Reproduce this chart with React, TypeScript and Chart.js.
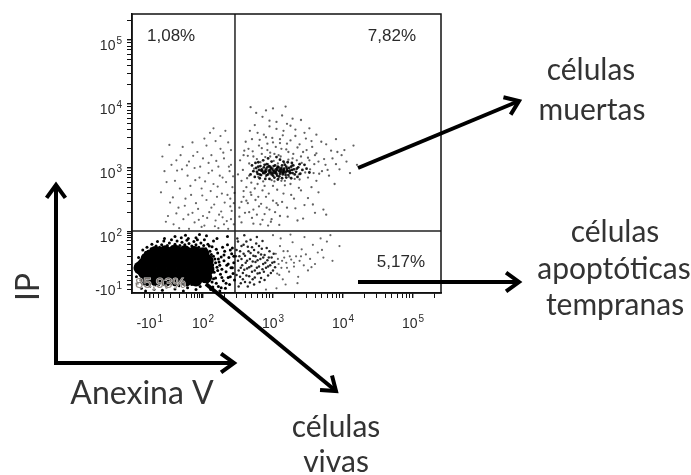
import React, { useEffect, useRef } from "react";
import { Chart, registerables } from "chart.js";

Chart.register(...registerables);

// Axis range in display (decade) units of the biexponential scale
const X_MIN = 0.986;
const X_MAX = 5.4;
const Y_MIN = 1.047;
const Y_MAX = 5.406;

// Tick labels: [base, exponent]
const xMajorTicks = [1.24, 2, 3, 4, 5];
const xTickLabels: [string, string][] = [["-10", "1"], ["10", "2"], ["10", "3"], ["10", "4"], ["10", "5"]];
const yMajorTicks = [1.17, 2, 3, 4, 5];
const yTickLabels: [string, string][] = [["-10", "1"], ["10", "2"], ["10", "3"], ["10", "4"], ["10", "5"]];
const xLowMinor = [1.16, 1.3, 1.37, 1.44, 1.53, 1.66, 1.76, 1.83, 1.88, 1.92, 1.95, 1.98];
const yLowMinor = [1.1, 1.25, 1.32, 1.4, 1.5, 1.62, 1.72, 1.8, 1.86, 1.91, 1.95, 1.98];

// Quadrant gates and percentages
const gateX = 2.457;
const gateY = 2.016;
const pctUpperLeft = "1,08%";
const pctUpperRight = "7,82%";
const pctLowerLeft = "85,93%";
const pctLowerRight = "5,17%";

// Live cells: solid core of the population
const liveCore: [number, number][] = [
  [1.243, 1.625], [1.386, 1.625], [1.529, 1.625], [1.671, 1.625], [1.814, 1.625], [1.957, 1.625],
  [1.157, 1.5], [1.271, 1.5], [1.414, 1.5], [1.557, 1.5], [1.7, 1.5], [1.843, 1.5], [1.986, 1.5],
  [1.157, 1.375], [1.271, 1.375], [1.414, 1.375], [1.557, 1.375], [1.7, 1.375], [1.843, 1.375], [1.957, 1.375],
  [1.186, 1.25], [1.329, 1.25], [1.471, 1.25], [1.614, 1.25], [1.757, 1.25], [1.9, 1.25],
  [2.06, 1.55], [2.07, 1.42], [2.04, 1.3], [1.32, 1.68], [1.6, 1.7], [1.88, 1.68],
  [1.46, 1.69], [1.74, 1.69], [2.0, 1.66], [1.2, 1.58], [1.1, 1.44],
];

// Live cells: halo around the core
const liveHalo: [number, number][] = [
  [1.12, 1.55], [1.15, 1.62], [1.18, 1.68], [1.22, 1.7], [1.26, 1.74], [1.3, 1.72], [1.33, 1.78], [1.38, 1.76],
  [1.41, 1.8], [1.45, 1.74], [1.49, 1.79], [1.52, 1.83], [1.56, 1.77], [1.6, 1.81], [1.63, 1.86], [1.67, 1.79],
  [1.7, 1.84], [1.74, 1.8], [1.77, 1.87], [1.8, 1.82], [1.84, 1.78], [1.87, 1.85], [1.9, 1.8], [1.94, 1.76],
  [1.97, 1.83], [2.01, 1.79], [2.04, 1.74], [2.07, 1.81], [2.1, 1.7], [2.13, 1.77],
  [2.02, 1.62], [2.04, 1.5], [2.05, 1.38], [2.03, 1.27], [2.06, 1.18], [2.08, 1.56], [2.09, 1.44], [2.1, 1.31],
  [2.12, 1.65], [2.13, 1.22], [2.14, 1.49], [2.16, 1.37], [2.17, 1.58], [2.18, 1.28], [2.2, 1.45], [2.21, 1.67],
  [2.22, 1.15], [2.23, 1.53], [2.25, 1.34], [2.26, 1.61], [2.27, 1.42], [2.29, 1.24], [2.3, 1.55], [2.31, 1.7],
  [2.33, 1.38], [2.34, 1.48], [2.36, 1.29], [2.37, 1.6], [2.38, 1.18], [2.4, 1.44], [2.41, 1.66], [2.43, 1.35],
  [2.44, 1.52], [2.45, 1.25], [2.42, 1.75], [2.35, 1.8], [2.28, 1.76], [2.19, 1.73], [2.11, 1.1], [2.24, 1.08],
  [1.12, 1.12], [1.18, 1.08], [1.24, 1.15], [1.3, 1.1], [1.36, 1.17], [1.42, 1.09], [1.48, 1.14], [1.54, 1.19],
  [1.6, 1.11], [1.66, 1.16], [1.72, 1.08], [1.78, 1.13], [1.84, 1.18], [1.9, 1.1], [1.96, 1.15],
  [1.05, 1.3], [1.07, 1.45], [1.06, 1.2], [1.09, 1.38], [1.1, 1.52], [1.08, 1.6],
  [1.45, 1.9], [1.6, 1.93], [1.75, 1.95], [1.9, 1.91], [2.05, 1.94], [2.2, 1.9], [2.35, 1.93], [1.35, 1.85],
  [2.15, 1.86], [1.95, 1.96],
  [1.14, 1.72], [1.2, 1.76], [1.27, 1.81], [1.31, 1.66], [1.35, 1.7], [1.4, 1.69], [1.44, 1.86], [1.47, 1.7],
  [1.51, 1.74], [1.55, 1.88], [1.58, 1.71], [1.62, 1.76], [1.65, 1.69], [1.69, 1.91], [1.72, 1.74], [1.76, 1.71],
  [1.79, 1.9], [1.83, 1.72], [1.86, 1.76], [1.89, 1.7], [1.92, 1.88], [1.96, 1.72], [1.99, 1.68], [2.02, 1.88],
  [2.06, 1.68], [2.09, 1.78], [2.12, 1.57], [2.15, 1.62], [2.18, 1.52], [2.21, 1.4], [2.24, 1.48], [2.27, 1.29],
  [2.3, 1.64], [2.33, 1.2], [2.36, 1.5], [2.39, 1.72], [2.42, 1.44], [2.07, 1.23], [2.14, 1.14], [2.19, 1.2],
  [2.26, 1.13], [2.32, 1.12], [2.39, 1.3], [2.44, 1.62], [2.03, 1.43], [2.06, 1.57], [2.08, 1.34], [2.15, 1.27],
  [2.11, 1.46], [2.22, 1.58],
];

// Early apoptotic cells (lower right): dense part and sparse tail
const earlyDense: [number, number][] = [
  [2.48, 1.72], [2.5, 1.55], [2.51, 1.4], [2.52, 1.62], [2.53, 1.3], [2.55, 1.78], [2.56, 1.48], [2.57, 1.36],
  [2.58, 1.66], [2.6, 1.22], [2.61, 1.52], [2.62, 1.85], [2.63, 1.43], [2.65, 1.7], [2.66, 1.31], [2.67, 1.58],
  [2.69, 1.47], [2.7, 1.76], [2.71, 1.26], [2.72, 1.63], [2.74, 1.4], [2.75, 1.53], [2.76, 1.82], [2.78, 1.35],
  [2.79, 1.68], [2.8, 1.46], [2.82, 1.58], [2.83, 1.28], [2.84, 1.74], [2.86, 1.5], [2.87, 1.38], [2.88, 1.64],
  [2.9, 1.44], [2.92, 1.56], [2.93, 1.32], [2.95, 1.7], [2.96, 1.48], [2.98, 1.6], [3.0, 1.4], [3.02, 1.53],
  [2.49, 1.9], [2.54, 1.2], [2.59, 1.95], [2.64, 1.15], [2.68, 1.88], [2.73, 1.18], [2.77, 1.92], [2.81, 1.22],
  [2.85, 1.86],
  [2.47, 1.62], [2.48, 1.33], [2.5, 1.85], [2.51, 1.15], [2.53, 1.7], [2.54, 1.44], [2.55, 1.58], [2.57, 1.26],
  [2.58, 1.8], [2.59, 1.41], [2.6, 1.63], [2.62, 1.32], [2.63, 1.55], [2.64, 1.77], [2.66, 1.45], [2.67, 1.21],
  [2.68, 1.67], [2.7, 1.38], [2.71, 1.54], [2.73, 1.72], [2.74, 1.29], [2.75, 1.62], [2.77, 1.44], [2.78, 1.56],
  [2.8, 1.78], [2.81, 1.36], [2.83, 1.65], [2.85, 1.42], [2.86, 1.6], [2.88, 1.25], [2.89, 1.52], [2.91, 1.75],
  [2.93, 1.46], [2.94, 1.6], [2.97, 1.36], [2.99, 1.52], [3.01, 1.66], [3.03, 1.45],
];
const earlySparse: [number, number][] = [
  [3.04, 1.66], [3.06, 1.35], [3.08, 1.5], [3.1, 1.78], [3.12, 1.44], [3.14, 1.26], [3.16, 1.6], [3.19, 1.52],
  [3.21, 1.7], [3.23, 1.38], [3.26, 1.57], [3.28, 1.84], [3.3, 1.46], [3.33, 1.62], [3.36, 1.3], [3.38, 1.55],
  [3.41, 1.73], [3.44, 1.48], [3.47, 1.65], [3.5, 1.4], [3.53, 1.58], [3.57, 1.8], [3.6, 1.5], [3.64, 1.68],
  [3.68, 1.9], [3.72, 1.6], [3.77, 1.85], [3.82, 1.95], [3.05, 1.12], [3.18, 1.18], [3.35, 1.2], [2.9, 1.1],
  [3.0, 1.95], [3.25, 1.96], [3.45, 1.92], [3.11, 1.9],
  [3.07, 1.58], [3.09, 1.33], [3.13, 1.55], [3.15, 1.7], [3.2, 1.44], [3.24, 1.62], [3.3, 1.52], [3.4, 1.62],
  [3.55, 1.45], [3.7, 1.72], [3.85, 1.55], [3.95, 1.78],
];

// Dead cells (upper right): dense cluster and cloud
const deadCore: [number, number][] = [
  [2.72, 2.95], [2.76, 3.0], [2.78, 2.91], [2.8, 2.97], [2.82, 3.03], [2.83, 2.89], [2.85, 2.95], [2.87, 3.01],
  [2.88, 2.92], [2.9, 2.98], [2.91, 3.06], [2.93, 2.9], [2.94, 2.96], [2.96, 3.02], [2.97, 2.93], [2.99, 2.99],
  [3.0, 2.88], [3.02, 2.95], [3.03, 3.04], [3.05, 2.91], [3.06, 2.97], [3.08, 3.01], [3.09, 2.87], [3.11, 2.94],
  [3.12, 3.0], [3.14, 2.9], [3.15, 2.97], [3.17, 3.05], [3.18, 2.93], [3.2, 2.99], [3.22, 2.89], [3.24, 2.96],
  [3.26, 3.02], [3.28, 2.92], [3.3, 2.98], [3.33, 2.94], [3.36, 3.01], [3.39, 2.91], [3.42, 2.97], [2.75, 3.08],
  [2.86, 3.12], [2.98, 3.1], [3.1, 3.13], [3.21, 3.09], [2.81, 2.84], [2.95, 2.83], [3.07, 2.82], [3.19, 2.85],
  [2.7, 3.04], [3.45, 3.05],
  [2.77, 2.94], [2.79, 3.02], [2.81, 2.9], [2.84, 2.98], [2.86, 2.92], [2.88, 3.05], [2.89, 2.95], [2.91, 2.89],
  [2.92, 3.01], [2.95, 2.93], [2.97, 3.0], [2.98, 2.9], [3.0, 2.96], [3.01, 3.03], [3.03, 2.92], [3.04, 2.98],
  [3.06, 2.88], [3.07, 3.02], [3.09, 2.95], [3.1, 2.91], [3.12, 2.97], [3.13, 3.04], [3.15, 2.92], [3.16, 2.99],
  [3.18, 2.89], [3.19, 3.02], [3.21, 2.95], [3.23, 3.0], [3.25, 2.92], [3.27, 2.97], [3.29, 3.04], [3.31, 2.9],
  [3.34, 2.99], [2.83, 2.96], [2.94, 3.03], [3.04, 2.94], [3.14, 2.94], [3.24, 2.93], [2.9, 2.94], [3.0, 2.92],
  [3.1, 2.98], [3.2, 2.96], [2.96, 2.97], [3.06, 3.0], [3.16, 2.95],
  [2.68, 2.9], [2.74, 2.86], [2.79, 3.09], [2.93, 3.15], [3.05, 3.17], [3.15, 3.1], [3.27, 3.08], [3.38, 3.06],
  [3.48, 2.99], [3.52, 2.93], [3.35, 2.86], [3.26, 2.84], [2.89, 2.83], [3.02, 2.85], [3.13, 2.84],
];
const deadHalo: [number, number][] = [
  [2.85, 3.8], [2.95, 3.65], [3.05, 3.72], [2.78, 3.55], [3.15, 3.58], [3.25, 3.66], [2.7, 3.45], [2.9, 3.48],
  [3.0, 3.4], [3.1, 3.45], [3.2, 3.38], [3.32, 3.5], [3.45, 3.55], [3.55, 3.42], [2.65, 3.3], [2.8, 3.35],
  [2.92, 3.28], [3.02, 3.22], [3.12, 3.3], [3.22, 3.25], [3.35, 3.32], [3.48, 3.28], [3.6, 3.2], [2.58, 3.2],
  [2.72, 3.18], [2.84, 3.22], [2.96, 3.18], [3.08, 3.2], [3.28, 3.15], [3.4, 3.18], [3.52, 3.12], [3.65, 3.1],
  [3.75, 3.05], [3.85, 3.15], [3.7, 2.95], [3.58, 2.92], [3.5, 2.85], [3.62, 2.8], [3.8, 2.88], [3.95, 2.98],
  [4.05, 3.1], [3.92, 3.25], [4.15, 3.35], [3.88, 2.75], [3.0, 3.93], [3.4, 3.75],
  [2.55, 2.8], [2.62, 2.7], [2.68, 2.62], [2.58, 2.55], [2.64, 2.45], [2.52, 2.38], [2.6, 2.3], [2.7, 2.22],
  [2.55, 2.15], [2.75, 2.5], [2.8, 2.4], [2.85, 2.65], [2.9, 2.55], [2.95, 2.35], [3.0, 2.72], [3.05, 2.45],
  [3.1, 2.25], [3.15, 2.6], [3.2, 2.38], [3.25, 2.75], [3.3, 2.52], [3.35, 2.18], [3.4, 2.65], [3.45, 2.42],
  [2.82, 2.12], [2.98, 2.2], [2.72, 2.35], [2.88, 2.28], [3.12, 2.8], [3.55, 2.7], [2.66, 2.88], [2.78, 2.75],
  [3.38, 2.82], [2.93, 2.1], [3.6, 2.3], [3.07, 2.42], [3.76, 2.27],
  [2.53, 3.12], [2.57, 2.97], [2.61, 3.41], [2.63, 2.84], [2.66, 3.07], [2.67, 3.58], [2.69, 2.77], [2.71, 3.26],
  [2.73, 2.99], [2.74, 3.67], [2.77, 3.14], [2.79, 2.86], [2.81, 3.44], [2.82, 3.09], [2.84, 3.31], [2.86, 2.79],
  [2.87, 3.52], [2.89, 3.17], [2.9, 2.87], [2.92, 3.38], [2.93, 3.06], [2.95, 3.74], [2.96, 3.24], [2.98, 2.81],
  [2.99, 3.47], [3.01, 3.11], [3.02, 2.79], [3.04, 3.33], [3.05, 3.61], [3.07, 3.07], [3.08, 2.84], [3.1, 3.39],
  [3.11, 3.18], [3.13, 2.92], [3.14, 3.51], [3.16, 3.08], [3.17, 2.8], [3.19, 3.29], [3.2, 3.69], [3.22, 3.13],
  [3.23, 2.86], [3.25, 3.43], [3.27, 3.04], [3.29, 3.22], [3.31, 2.83], [3.32, 3.6], [3.34, 3.12], [3.37, 2.9],
  [3.38, 3.37], [3.41, 3.08], [3.43, 3.25], [3.46, 2.93], [3.47, 3.46], [3.5, 3.16], [3.53, 2.98], [3.56, 3.33],
  [3.59, 3.06], [3.62, 3.23], [3.66, 2.91], [3.69, 3.41], [3.73, 3.14], [3.78, 2.97], [3.83, 3.27], [3.9, 3.06],
  [3.98, 3.2], [4.1, 2.92], [4.2, 3.05], [2.58, 2.64], [2.62, 2.49], [2.66, 2.31], [2.69, 2.58], [2.72, 2.13],
  [2.74, 2.68], [2.77, 2.27], [2.79, 2.55], [2.83, 2.44], [2.85, 2.19], [2.88, 2.72], [2.91, 2.38], [2.94, 2.6],
  [2.97, 2.16], [3.0, 2.49], [3.03, 2.31], [3.06, 2.66], [3.09, 2.11], [3.13, 2.47], [3.17, 2.73], [3.21, 2.24],
  [3.26, 2.58], [3.32, 2.37], [3.37, 2.69], [3.43, 2.21], [3.5, 2.53], [3.57, 2.43], [3.65, 2.62], [3.72, 2.35],
  [2.5, 2.9], [2.52, 2.24], [2.55, 2.47], [2.59, 3.27], [2.64, 3.19], [2.76, 3.86], [2.9, 3.9], [3.13, 3.82],
  [3.28, 3.77], [3.52, 3.62], [3.62, 3.52], [3.76, 3.37], [3.9, 3.45], [4.02, 3.28], [2.68, 3.95], [3.18, 3.96],
];

// Necrotic cells (upper left)
const necrotic: [number, number][] = [
  [1.55, 3.05], [1.62, 3.12], [1.7, 2.98], [1.68, 3.2], [1.8, 3.1], [1.88, 3.0], [1.92, 3.25], [2.0, 3.15],
  [2.05, 3.35], [2.12, 3.2], [2.18, 3.42], [2.25, 3.3], [2.3, 3.15], [2.36, 3.4], [2.4, 3.05], [2.22, 3.02],
  [2.08, 2.92], [1.95, 2.85], [1.78, 2.88], [1.6, 2.8], [1.82, 2.72], [1.98, 2.68], [2.15, 2.75], [2.28, 2.85],
  [2.42, 2.7], [2.35, 2.58], [2.2, 2.55], [2.05, 2.5], [1.9, 2.45], [1.75, 2.52], [1.65, 2.38], [1.85, 2.3],
  [2.0, 2.25], [2.12, 2.38], [2.26, 2.32], [2.4, 2.2], [2.3, 2.12], [2.18, 2.18], [2.02, 2.1], [1.88, 2.15],
  [1.72, 2.2], [1.58, 2.12], [1.5, 2.25], [2.44, 2.45], [2.38, 2.95], [1.45, 2.95], [1.4, 2.62], [2.1, 3.55],
  [2.32, 3.58], [1.98, 2.08], [2.22, 2.06], [2.36, 2.05], [1.8, 2.05], [1.66, 2.06],
  [1.42, 3.18], [1.48, 2.78], [1.52, 3.36], [1.57, 2.54], [1.63, 2.96], [1.67, 2.68], [1.71, 3.33], [1.74, 2.41],
  [1.77, 3.04], [1.83, 2.58], [1.86, 3.19], [1.89, 2.81], [1.93, 2.36], [1.96, 3.02], [1.99, 2.57], [2.03, 2.79],
  [2.06, 2.22], [2.08, 3.08], [2.11, 2.64], [2.13, 2.96], [2.16, 2.43], [2.19, 3.11], [2.21, 2.71], [2.23, 2.27],
  [2.24, 2.88], [2.27, 2.6], [2.29, 3.24], [2.31, 2.46], [2.33, 2.78], [2.34, 2.17], [2.37, 3.02], [2.39, 2.52],
  [2.41, 2.33], [2.43, 2.87], [2.44, 2.12], [2.45, 2.61], [2.17, 2.09], [2.28, 2.23], [2.39, 2.4], [2.09, 2.31],
  [1.94, 2.19], [1.79, 2.27], [1.62, 2.29], [1.53, 2.46], [1.47, 2.16], [2.25, 3.5], [2.02, 3.46], [1.85, 3.4],
  [2.4, 3.28], [2.15, 3.62],
];

function decadeMinors(from: number, to: number, max: number): number[] {
  const out: number[] = [];
  for (let d = from; d <= to; d++) {
    for (let k = 2; k <= 9; k++) {
      const v = d + Math.log10(k);
      if (v < max) out.push(v);
    }
  }
  return out;
}

function isMajor(v: number, majors: number[]): boolean {
  return majors.some((m) => Math.abs(v - m) < 1e-6);
}

const toPts = (arr: [number, number][]) => arr.map(([x, y]) => ({ x, y }));

function drawArrow(ctx: CanvasRenderingContext2D, x1: number, y1: number, x2: number, y2: number) {
  const head = 16;
  const spread = Math.PI / 5;
  ctx.save();
  ctx.strokeStyle = "#000";
  ctx.lineWidth = 4;
  ctx.lineCap = "butt";
  ctx.lineJoin = "miter";
  const a = Math.atan2(y2 - y1, x2 - x1);
  ctx.beginPath();
  ctx.moveTo(x1, y1);
  ctx.lineTo(x2 - Math.cos(a) * 2, y2 - Math.sin(a) * 2);
  ctx.stroke();
  ctx.beginPath();
  ctx.moveTo(x2 - head * Math.cos(a - spread), y2 - head * Math.sin(a - spread));
  ctx.lineTo(x2, y2);
  ctx.lineTo(x2 - head * Math.cos(a + spread), y2 - head * Math.sin(a + spread));
  ctx.stroke();
  ctx.restore();
}

const tickFontBase = "14px 'Liberation Sans', Arial, sans-serif";
const tickFontExp = "10px 'Liberation Sans', Arial, sans-serif";
const annotFont = "30px Lato, 'Open Sans', sans-serif";
const annotColor = "#333333";

function drawPowerLabel(ctx: CanvasRenderingContext2D, base: string, exp: string, x: number, baseline: number, align: "center" | "right") {
  ctx.font = tickFontBase;
  const wb = ctx.measureText(base).width;
  ctx.font = tickFontExp;
  const we = ctx.measureText(exp).width;
  const total = wb + we + 1;
  const left = align === "center" ? x - total / 2 : x - total;
  ctx.textAlign = "left";
  ctx.textBaseline = "alphabetic";
  ctx.font = tickFontBase;
  ctx.fillText(base, left, baseline);
  ctx.font = tickFontExp;
  ctx.fillText(exp, left + wb + 1, baseline - 6);
}

const overlayPlugin = {
  id: "facsOverlay",
  beforeDatasetsDraw(chart: any) {
    const { ctx, chartArea, scales } = chart;
    const gx = scales.x.getPixelForValue(gateX);
    const gy = scales.y.getPixelForValue(gateY);
    ctx.save();
    ctx.strokeStyle = "#222";
    ctx.lineWidth = 1.5;
    ctx.beginPath();
    ctx.moveTo(gx, chartArea.top);
    ctx.lineTo(gx, chartArea.bottom);
    ctx.moveTo(chartArea.left, gy);
    ctx.lineTo(chartArea.right, gy);
    ctx.stroke();
    ctx.restore();
  },
  afterDatasetsDraw(chart: any) {
    const { ctx, chartArea, scales } = chart;
    ctx.save();
    ctx.strokeStyle = "#111";
    ctx.lineWidth = 1.5;
    ctx.strokeRect(chartArea.left, chartArea.top, chartArea.right - chartArea.left, chartArea.bottom - chartArea.top);
    ctx.font = "17px 'Liberation Sans', Arial, sans-serif";
    ctx.fillStyle = "#2a2a2a";
    ctx.textBaseline = "middle";
    ctx.textAlign = "left";
    ctx.fillText(pctUpperLeft, chartArea.left + 15, chartArea.top + 22);
    ctx.textAlign = "right";
    ctx.fillText(pctUpperRight, chartArea.right - 25, chartArea.top + 22);
    ctx.fillText(pctLowerRight, chartArea.right - 16, chartArea.bottom - 31);
    ctx.textAlign = "left";
    ctx.font = "15px 'Liberation Sans', Arial, sans-serif";
    ctx.lineWidth = 1.2;
    ctx.strokeStyle = "rgba(255,255,255,0.8)";
    ctx.strokeText(pctLowerLeft, chartArea.left + 3, chartArea.bottom - 9);
    ctx.fillStyle = "rgba(60,45,35,0.55)";
    ctx.fillText(pctLowerLeft, chartArea.left + 3, chartArea.bottom - 9);

    // tick labels with superscript exponents
    ctx.fillStyle = "#2b2b2b";
    xMajorTicks.forEach((v, i) => {
      const px = scales.x.getPixelForValue(v);
      drawPowerLabel(ctx, xTickLabels[i][0], xTickLabels[i][1], px, chartArea.bottom + 35, "center");
    });
    yMajorTicks.forEach((v, i) => {
      const py = scales.y.getPixelForValue(v);
      drawPowerLabel(ctx, yTickLabels[i][0], yTickLabels[i][1], chartArea.left - 10, py + 10, "right");
    });
    ctx.restore();
  },
  afterDraw(chart: any) {
    const ctx: CanvasRenderingContext2D = chart.ctx;
    drawArrow(ctx, 358, 168, 519, 101);
    drawArrow(ctx, 358, 282, 519, 282);
    drawArrow(ctx, 206, 284, 336, 391);
    drawArrow(ctx, 56, 365, 56, 185);
    drawArrow(ctx, 54, 363, 234, 363);

    ctx.save();
    ctx.fillStyle = annotColor;
    ctx.font = annotFont;
    ctx.textAlign = "center";
    ctx.textBaseline = "alphabetic";
    ctx.fillText("células", 591, 80);
    ctx.fillText("muertas", 592, 120);
    ctx.fillText("células", 615, 242);
    ctx.fillText("apoptóticas", 614, 279);
    ctx.fillText("tempranas", 615, 315);
    ctx.fillText("células", 336, 437);
    ctx.fillText("vivas", 336, 472);
    ctx.font = "32px Lato, 'Open Sans', sans-serif";
    ctx.fillText("Anexina V", 142, 404);
    ctx.save();
    ctx.translate(39, 287);
    ctx.rotate(-Math.PI / 2);
    ctx.fillText("IP", 0, 0);
    ctx.restore();
    ctx.restore();
  },
};

export default function App() {
  const canvasRef = useRef<HTMLCanvasElement | null>(null);

  useEffect(() => {
    if (!canvasRef.current) return;
    const xTicks = [...xLowMinor, ...xMajorTicks, ...decadeMinors(2, 5, X_MAX)].sort((a, b) => a - b);
    const yTicks = [...yLowMinor, ...yMajorTicks, ...decadeMinors(2, 5, Y_MAX)].sort((a, b) => a - b);

    const chart = new Chart(canvasRef.current, {
      type: "scatter",
      data: {
        datasets: [
          { label: "Vivas (núcleo)", data: toPts(liveCore), pointRadius: 6.5, backgroundColor: "#000", borderWidth: 0 },
          { label: "Vivas", data: toPts(liveHalo), pointRadius: 1.5, backgroundColor: "#000", borderWidth: 0 },
          { label: "Apoptóticas tempranas", data: toPts(earlyDense), pointRadius: 1.25, backgroundColor: "rgba(0,0,0,0.85)", borderWidth: 0 },
          { label: "Apoptóticas (cola)", data: toPts(earlySparse), pointRadius: 1.1, backgroundColor: "rgba(0,0,0,0.6)", borderWidth: 0 },
          { label: "Muertas (núcleo)", data: toPts(deadCore), pointRadius: 1.4, backgroundColor: "rgba(0,0,0,0.9)", borderWidth: 0 },
          { label: "Muertas", data: toPts(deadHalo), pointRadius: 1.15, backgroundColor: "rgba(0,0,0,0.62)", borderWidth: 0 },
          { label: "Necróticas", data: toPts(necrotic), pointRadius: 1.1, backgroundColor: "rgba(0,0,0,0.6)", borderWidth: 0 },
        ],
      },
      options: {
        animation: false,
        responsive: false,
        events: [],
        layout: { padding: { left: 0, top: 14, right: 250, bottom: 0 } },
        plugins: { legend: { display: false }, tooltip: { enabled: false } },
        scales: {
          x: {
            type: "linear",
            min: X_MIN,
            max: X_MAX,
            afterBuildTicks: (s: any) => {
              s.ticks = xTicks.map((v) => ({ value: v }));
            },
            afterFit: (s: any) => {
              s.height = 182;
            },
            ticks: { autoSkip: false, maxRotation: 0, callback: () => "" },
            grid: {
              drawOnChartArea: false,
              drawTicks: true,
              tickLength: 5,
              color: "#111",
              lineWidth: (c: any) => (c.tick && isMajor(c.tick.value, xMajorTicks) ? 1.4 : 1),
            },
            border: { display: true, color: "#111", width: 1.5 },
          },
          y: {
            type: "linear",
            min: Y_MIN,
            max: Y_MAX,
            afterBuildTicks: (s: any) => {
              s.ticks = yTicks.map((v) => ({ value: v }));
            },
            afterFit: (s: any) => {
              s.width = 132;
            },
            ticks: { autoSkip: false, callback: () => "" },
            grid: {
              drawOnChartArea: false,
              drawTicks: true,
              tickLength: 5,
              color: "#111",
              lineWidth: (c: any) => (c.tick && isMajor(c.tick.value, yMajorTicks) ? 1.4 : 1),
            },
            border: { display: true, color: "#111", width: 1.5 },
          },
        },
      },
      plugins: [overlayPlugin],
    } as any);

    return () => chart.destroy();
  }, []);

  return (
    <div style={{ position: "fixed", left: 0, top: 0, width: 691, height: 475, background: "#fff" }}>
      <canvas ref={canvasRef} width={691} height={475} style={{ display: "block" }} />
    </div>
  );
}
